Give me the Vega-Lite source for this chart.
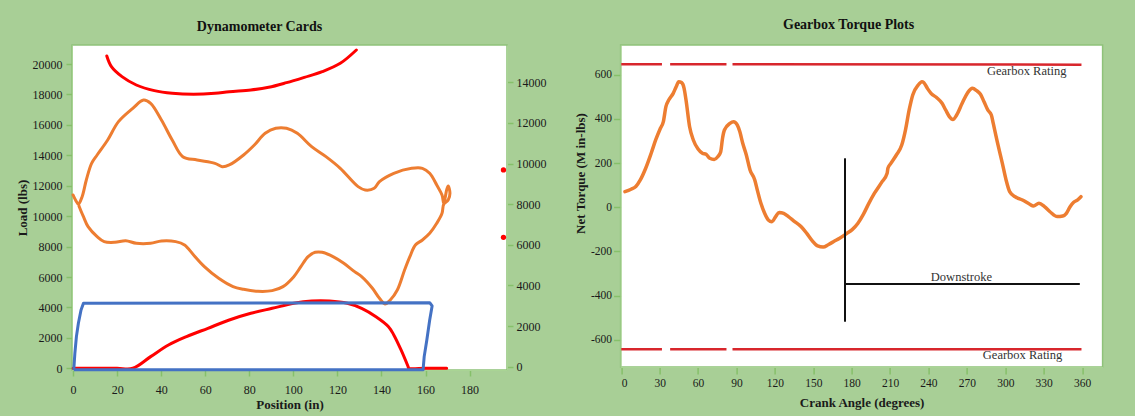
{
  "$schema": "https://vega.github.io/schema/vega-lite/v6.json",
  "background": "#a8cf96",
  "padding": {"left": 15, "top": 17, "right": 35, "bottom": 4},
  "spacing": 26.6,
  "config": {
    "font": "Liberation Serif",
    "view": {"fill": "white", "stroke": "#8fc27a", "strokeWidth": 1.5},
    "axis": {"labelFont": "Liberation Serif", "labelFontSize": 12, "labelColor": "#1a1a1a", "labelOverlap": false, "titleFont": "Liberation Serif", "titleFontSize": 13, "titleFontWeight": "bold", "titleColor": "#1a1a1a", "tickColor": "#86c06a", "tickWidth": 1.5, "domainColor": "#a9d494", "grid": false, "tickSize": 6},
    "title": {"font": "Liberation Serif", "fontSize": 14, "fontWeight": "bold", "color": "#111", "frame": "group"}
  },
  "datasets": {
    "dyno": [
      {"series": "redtop", "i": 1, "pos": 15.3, "load": 20525},
      {"series": "redtop", "i": 2, "pos": 17.4, "load": 19825},
      {"series": "redtop", "i": 3, "pos": 22.2, "load": 19168},
      {"series": "redtop", "i": 4, "pos": 28.7, "load": 18620},
      {"series": "redtop", "i": 5, "pos": 36.9, "load": 18248},
      {"series": "redtop", "i": 6, "pos": 45.0, "load": 18072},
      {"series": "redtop", "i": 7, "pos": 54.7, "load": 18006},
      {"series": "redtop", "i": 8, "pos": 64.4, "load": 18072},
      {"series": "redtop", "i": 9, "pos": 70.9, "load": 18182},
      {"series": "redtop", "i": 10, "pos": 80.7, "load": 18291},
      {"series": "redtop", "i": 11, "pos": 88.8, "load": 18467},
      {"series": "redtop", "i": 12, "pos": 96.9, "load": 18773},
      {"series": "redtop", "i": 13, "pos": 105.0, "load": 19124},
      {"series": "redtop", "i": 14, "pos": 113.1, "load": 19496},
      {"series": "redtop", "i": 15, "pos": 121.3, "load": 20044},
      {"series": "redtop", "i": 16, "pos": 128.6, "load": 20920},
      {"series": "orange", "i": 1, "pos": 0, "load": 11391},
      {"series": "orange", "i": 2, "pos": 1.1, "load": 11062},
      {"series": "orange", "i": 3, "pos": 2.4, "load": 10800},
      {"series": "orange", "i": 4, "pos": 4.1, "load": 11281},
      {"series": "orange", "i": 5, "pos": 6.0, "load": 12377},
      {"series": "orange", "i": 6, "pos": 8.4, "load": 13472},
      {"series": "orange", "i": 7, "pos": 10.9, "load": 14020},
      {"series": "orange", "i": 8, "pos": 15.7, "load": 15005},
      {"series": "orange", "i": 9, "pos": 20.6, "load": 16210},
      {"series": "orange", "i": 10, "pos": 27.1, "load": 17087},
      {"series": "orange", "i": 11, "pos": 32.0, "load": 17634},
      {"series": "orange", "i": 12, "pos": 35.2, "load": 17415},
      {"series": "orange", "i": 13, "pos": 40.1, "load": 16320},
      {"series": "orange", "i": 14, "pos": 45.0, "load": 15005},
      {"series": "orange", "i": 15, "pos": 49.8, "load": 13910},
      {"series": "orange", "i": 16, "pos": 56.3, "load": 13691},
      {"series": "orange", "i": 17, "pos": 64.4, "load": 13472},
      {"series": "orange", "i": 18, "pos": 67.7, "load": 13253},
      {"series": "orange", "i": 19, "pos": 70.9, "load": 13363},
      {"series": "orange", "i": 20, "pos": 77.4, "load": 14020},
      {"series": "orange", "i": 21, "pos": 82.3, "load": 14677},
      {"series": "orange", "i": 22, "pos": 87.2, "load": 15444},
      {"series": "orange", "i": 23, "pos": 92.0, "load": 15772},
      {"series": "orange", "i": 24, "pos": 96.9, "load": 15772},
      {"series": "orange", "i": 25, "pos": 101.8, "load": 15444},
      {"series": "orange", "i": 26, "pos": 108.3, "load": 14567},
      {"series": "orange", "i": 27, "pos": 114.8, "load": 13910},
      {"series": "orange", "i": 28, "pos": 121.3, "load": 13143},
      {"series": "orange", "i": 29, "pos": 129.4, "load": 11939},
      {"series": "orange", "i": 30, "pos": 132.6, "load": 11720},
      {"series": "orange", "i": 31, "pos": 136.7, "load": 11829},
      {"series": "orange", "i": 32, "pos": 139.1, "load": 12267},
      {"series": "orange", "i": 33, "pos": 145.6, "load": 12815},
      {"series": "orange", "i": 34, "pos": 153.7, "load": 13143},
      {"series": "orange", "i": 35, "pos": 158.6, "load": 13143},
      {"series": "orange", "i": 36, "pos": 161.9, "load": 12815},
      {"series": "orange", "i": 37, "pos": 165.1, "load": 12048},
      {"series": "orange", "i": 38, "pos": 167.5, "load": 11391},
      {"series": "orange", "i": 39, "pos": 168.3, "load": 10843},
      {"series": "orange", "i": 40, "pos": 169.6, "load": 11720},
      {"series": "orange", "i": 41, "pos": 170.3, "load": 11982},
      {"series": "orange", "i": 42, "pos": 171.1, "load": 11501},
      {"series": "orange", "i": 43, "pos": 170.3, "load": 11062},
      {"series": "orange", "i": 44, "pos": 168.3, "load": 10800},
      {"series": "orange", "i": 45, "pos": 167.5, "load": 10186},
      {"series": "orange", "i": 46, "pos": 165.1, "load": 9529},
      {"series": "orange", "i": 47, "pos": 161.9, "load": 8872},
      {"series": "orange", "i": 48, "pos": 158.6, "load": 8434},
      {"series": "orange", "i": 49, "pos": 155.4, "load": 8105},
      {"series": "orange", "i": 50, "pos": 152.9, "load": 7338},
      {"series": "orange", "i": 51, "pos": 150.5, "load": 6462},
      {"series": "orange", "i": 52, "pos": 147.2, "load": 5148},
      {"series": "orange", "i": 53, "pos": 144.0, "load": 4491},
      {"series": "orange", "i": 54, "pos": 141.6, "load": 4228},
      {"series": "orange", "i": 55, "pos": 139.1, "load": 4600},
      {"series": "orange", "i": 56, "pos": 135.9, "load": 5257},
      {"series": "orange", "i": 57, "pos": 131.0, "load": 6024},
      {"series": "orange", "i": 58, "pos": 127.8, "load": 6353},
      {"series": "orange", "i": 59, "pos": 122.9, "load": 6900},
      {"series": "orange", "i": 60, "pos": 118.0, "load": 7338},
      {"series": "orange", "i": 61, "pos": 113.1, "load": 7623},
      {"series": "orange", "i": 62, "pos": 109.9, "load": 7623},
      {"series": "orange", "i": 63, "pos": 106.7, "load": 7338},
      {"series": "orange", "i": 64, "pos": 103.4, "load": 6681},
      {"series": "orange", "i": 65, "pos": 100.2, "load": 6024},
      {"series": "orange", "i": 66, "pos": 95.3, "load": 5367},
      {"series": "orange", "i": 67, "pos": 90.4, "load": 5104},
      {"series": "orange", "i": 68, "pos": 83.9, "load": 5060},
      {"series": "orange", "i": 69, "pos": 77.4, "load": 5192},
      {"series": "orange", "i": 70, "pos": 72.6, "load": 5367},
      {"series": "orange", "i": 71, "pos": 66.1, "load": 5915},
      {"series": "orange", "i": 72, "pos": 59.6, "load": 6681},
      {"series": "orange", "i": 73, "pos": 54.7, "load": 7448},
      {"series": "orange", "i": 74, "pos": 50.6, "load": 8105},
      {"series": "orange", "i": 75, "pos": 46.6, "load": 8324},
      {"series": "orange", "i": 76, "pos": 40.1, "load": 8368},
      {"series": "orange", "i": 77, "pos": 35.2, "load": 8215},
      {"series": "orange", "i": 78, "pos": 28.7, "load": 8215},
      {"series": "orange", "i": 79, "pos": 23.9, "load": 8390},
      {"series": "orange", "i": 80, "pos": 19.0, "load": 8280},
      {"series": "orange", "i": 81, "pos": 14.1, "load": 8324},
      {"series": "orange", "i": 82, "pos": 10.9, "load": 8653},
      {"series": "orange", "i": 83, "pos": 6.8, "load": 9310},
      {"series": "orange", "i": 84, "pos": 4.7, "load": 9967},
      {"series": "orange", "i": 85, "pos": 2.8, "load": 10624},
      {"series": "orange", "i": 86, "pos": 2.4, "load": 10800},
      {"series": "redlow", "i": 1, "pos": 0, "load": 0},
      {"series": "redlow", "i": 2, "pos": 10, "load": 0},
      {"series": "redlow", "i": 3, "pos": 20, "load": 0},
      {"series": "redlow", "i": 4, "pos": 27.1, "load": 0},
      {"series": "redlow", "i": 5, "pos": 35.2, "load": 767},
      {"series": "redlow", "i": 6, "pos": 43.3, "load": 1533},
      {"series": "redlow", "i": 7, "pos": 51.5, "load": 2081},
      {"series": "redlow", "i": 8, "pos": 61.2, "load": 2629},
      {"series": "redlow", "i": 9, "pos": 70.9, "load": 3176},
      {"series": "redlow", "i": 10, "pos": 80.7, "load": 3614},
      {"series": "redlow", "i": 11, "pos": 90.4, "load": 3943},
      {"series": "redlow", "i": 12, "pos": 100.2, "load": 4272},
      {"series": "redlow", "i": 13, "pos": 108.3, "load": 4425},
      {"series": "redlow", "i": 14, "pos": 116.4, "load": 4425},
      {"series": "redlow", "i": 15, "pos": 124.5, "load": 4272},
      {"series": "redlow", "i": 16, "pos": 131.0, "load": 3943},
      {"series": "redlow", "i": 17, "pos": 137.5, "load": 3395},
      {"series": "redlow", "i": 18, "pos": 143.2, "load": 2738},
      {"series": "redlow", "i": 19, "pos": 145.6, "load": 2191},
      {"series": "redlow", "i": 20, "pos": 148.9, "load": 1205},
      {"series": "redlow", "i": 21, "pos": 152.1, "load": 110},
      {"series": "redlow", "i": 22, "pos": 152.4, "load": 0},
      {"series": "redlow", "i": 23, "pos": 160, "load": 0},
      {"series": "redlow", "i": 24, "pos": 169.6, "load": 0},
      {"series": "blue", "i": 1, "pos": 0.3, "load": -100},
      {"series": "blue", "i": 2, "pos": 0.8, "load": 986},
      {"series": "blue", "i": 3, "pos": 1.5, "load": 2081},
      {"series": "blue", "i": 4, "pos": 2.4, "load": 2957},
      {"series": "blue", "i": 5, "pos": 3.6, "load": 3833},
      {"series": "blue", "i": 6, "pos": 4.7, "load": 4272},
      {"series": "blue", "i": 7, "pos": 161.9, "load": 4315},
      {"series": "blue", "i": 8, "pos": 163.0, "load": 4096},
      {"series": "blue", "i": 9, "pos": 161.9, "load": 3176},
      {"series": "blue", "i": 10, "pos": 160.6, "load": 1862},
      {"series": "blue", "i": 11, "pos": 159.4, "load": 767},
      {"series": "blue", "i": 12, "pos": 158.9, "load": -100},
      {"series": "blue", "i": 13, "pos": 0.3, "load": -100}
    ],
    "dots": [
      {"pos": 195.4, "val": 9684},
      {"pos": 195.4, "val": 6370}
    ],
    "torque": [
      {"angle": 2.9, "torque": 71}, {"angle": 7.7, "torque": 82}, {"angle": 11.4, "torque": 94},
      {"angle": 14.9, "torque": 124}, {"angle": 19.1, "torque": 177}, {"angle": 23.4, "torque": 245},
      {"angle": 26.9, "torque": 305}, {"angle": 30.6, "torque": 358}, {"angle": 32.9, "torque": 388},
      {"angle": 34.9, "torque": 456}, {"angle": 37.1, "torque": 486}, {"angle": 40.6, "torque": 516},
      {"angle": 42.9, "torque": 546}, {"angle": 44.9, "torque": 569}, {"angle": 47.1, "torque": 565},
      {"angle": 49.1, "torque": 539}, {"angle": 50.6, "torque": 486}, {"angle": 53.4, "torque": 365},
      {"angle": 56.3, "torque": 305}, {"angle": 60.0, "torque": 264}, {"angle": 63.4, "torque": 245},
      {"angle": 66.3, "torque": 240}, {"angle": 69.1, "torque": 222}, {"angle": 72.6, "torque": 217},
      {"angle": 75.4, "torque": 229}, {"angle": 77.7, "torque": 252}, {"angle": 79.1, "torque": 312},
      {"angle": 80.6, "torque": 350}, {"angle": 84.9, "torque": 380}, {"angle": 87.7, "torque": 388},
      {"angle": 90.6, "torque": 373}, {"angle": 92.6, "torque": 343}, {"angle": 94.9, "torque": 290},
      {"angle": 97.7, "torque": 237}, {"angle": 100.6, "torque": 169}, {"angle": 104.3, "torque": 124},
      {"angle": 106.3, "torque": 78}, {"angle": 109.1, "torque": 18}, {"angle": 112.0, "torque": -27},
      {"angle": 114.9, "torque": -57}, {"angle": 117.7, "torque": -65}, {"angle": 120.6, "torque": -42},
      {"angle": 123.4, "torque": -23}, {"angle": 126.9, "torque": -27}, {"angle": 130.6, "torque": -42},
      {"angle": 134.9, "torque": -62}, {"angle": 140.6, "torque": -88}, {"angle": 144.9, "torque": -118},
      {"angle": 149.1, "torque": -151}, {"angle": 153.4, "torque": -175}, {"angle": 157.7, "torque": -180},
      {"angle": 162.0, "torque": -168}, {"angle": 166.3, "torque": -154}, {"angle": 170.6, "torque": -140},
      {"angle": 176.3, "torque": -118}, {"angle": 180.6, "torque": -100}, {"angle": 184.9, "torque": -72},
      {"angle": 189.1, "torque": -32}, {"angle": 193.4, "torque": 18}, {"angle": 197.7, "torque": 63},
      {"angle": 203.4, "torque": 113}, {"angle": 207.7, "torque": 154}, {"angle": 208.3, "torque": 177},
      {"angle": 210.6, "torque": 199}, {"angle": 214.9, "torque": 237}, {"angle": 219.1, "torque": 282},
      {"angle": 222.0, "torque": 350}, {"angle": 224.9, "torque": 441}, {"angle": 227.7, "torque": 509},
      {"angle": 232.0, "torque": 554}, {"angle": 234.9, "torque": 569}, {"angle": 236.3, "torque": 565},
      {"angle": 239.1, "torque": 539}, {"angle": 242.0, "torque": 516}, {"angle": 246.3, "torque": 497},
      {"angle": 250.6, "torque": 471}, {"angle": 253.4, "torque": 441}, {"angle": 256.3, "torque": 411},
      {"angle": 259.1, "torque": 398}, {"angle": 262.0, "torque": 418}, {"angle": 266.3, "torque": 471},
      {"angle": 270.6, "torque": 519}, {"angle": 274.3, "torque": 539}, {"angle": 277.7, "torque": 528},
      {"angle": 280.6, "torque": 512}, {"angle": 283.4, "torque": 478}, {"angle": 286.3, "torque": 441},
      {"angle": 289.1, "torque": 418}, {"angle": 290.6, "torque": 380}, {"angle": 293.4, "torque": 305},
      {"angle": 297.7, "torque": 199}, {"angle": 300.6, "torque": 124}, {"angle": 303.4, "torque": 71},
      {"angle": 307.7, "torque": 48}, {"angle": 313.4, "torque": 33}, {"angle": 319.1, "torque": 14},
      {"angle": 322.0, "torque": 6}, {"angle": 326.3, "torque": 18}, {"angle": 330.6, "torque": 3},
      {"angle": 334.9, "torque": -20}, {"angle": 340.6, "torque": -42}, {"angle": 344.9, "torque": -39},
      {"angle": 347.7, "torque": -27}, {"angle": 350.6, "torque": 3}, {"angle": 353.4, "torque": 23},
      {"angle": 356.3, "torque": 33}, {"angle": 359.1, "torque": 48}
    ],
    "rating": [
      {"seg": "u1", "angle": 0, "torque": 648}, {"seg": "u1", "angle": 31.8, "torque": 648},
      {"seg": "u2", "angle": 38.2, "torque": 648}, {"seg": "u2", "angle": 82.2, "torque": 648},
      {"seg": "u3", "angle": 86.9, "torque": 648}, {"seg": "u3", "angle": 359.5, "torque": 646},
      {"seg": "l1", "angle": 0, "torque": -643}, {"seg": "l1", "angle": 31.8, "torque": -643},
      {"seg": "l2", "angle": 38.2, "torque": -643}, {"seg": "l2", "angle": 82.2, "torque": -643},
      {"seg": "l3", "angle": 86.9, "torque": -643}, {"seg": "l3", "angle": 359.5, "torque": -643}
    ],
    "markers": [
      {"a1": 174.8, "t1": 222, "a2": 174.8, "t2": -518},
      {"a1": 174.8, "t1": -347, "a2": 358.2, "t2": -347}
    ],
    "notes": [
      {"angle": 316.7, "torque": 617, "text": "Gearbox Rating"},
      {"angle": 313.5, "torque": -669, "text": "Gearbox Rating"},
      {"angle": 265.7, "torque": -314, "text": "Downstroke"}
    ]
  },
  "hconcat": [
    {
      "title": {"text": "Dynamometer Cards", "offset": 11, "dx": -30},
      "width": 435,
      "height": 325,
      "layer": [
        {
          "layer": [
            {
              "data": {"name": "dyno"},
              "transform": [{"filter": "datum.series != 'blue'"}],
              "mark": {"type": "line", "strokeWidth": 3, "interpolate": "catmull-rom", "strokeCap": "round", "strokeJoin": "round"},
              "encoding": {
                "x": {"field": "pos", "type": "quantitative", "title": "Position (in)", "scale": {"domain": [-0.5, 197], "nice": false, "zero": false},
                      "axis": {"values": [0, 20, 40, 60, 80, 100, 120, 140, 160, 180], "labelPadding": 8, "titlePadding": 3, "labelOverlap": false}},
                "y": {"field": "load", "type": "quantitative", "title": "Load (lbs)", "scale": {"domain": [-112, 21249], "nice": false, "zero": false},
                      "axis": {"values": [0, 2000, 4000, 6000, 8000, 10000, 12000, 14000, 16000, 18000, 20000], "format": "d", "labelPadding": 4, "titlePadding": 3, "labelOverlap": false}},
                "detail": {"field": "series"},
                "order": {"field": "i"},
                "color": {"field": "series", "scale": {"domain": ["redtop", "orange", "redlow"], "range": ["#ff0000", "#ed7d31", "#ff0000"]}, "legend": null}
              }
            },
            {
              "data": {"name": "dyno"},
              "transform": [{"filter": "datum.series == 'blue'"}],
              "mark": {"type": "line", "strokeWidth": 3, "color": "#4472c4", "strokeJoin": "round"},
              "encoding": {
                "x": {"field": "pos", "type": "quantitative", "title": "Position (in)",
                      "axis": {"values": [0, 20, 40, 60, 80, 100, 120, 140, 160, 180], "labelPadding": 8, "titlePadding": 3, "labelOverlap": false}},
                "y": {"field": "load", "type": "quantitative", "title": "Load (lbs)",
                      "axis": {"values": [0, 2000, 4000, 6000, 8000, 10000, 12000, 14000, 16000, 18000, 20000], "format": "d", "labelPadding": 4, "titlePadding": 3, "labelOverlap": false}},
                "order": {"field": "i"}
              }
            }
          ]
        },
        {
          "data": {"name": "dots"},
          "mark": {"type": "point", "filled": true, "size": 28, "color": "#ff0000", "opacity": 1},
          "encoding": {
            "x": {"field": "pos", "type": "quantitative", "title": "Position (in)",
                  "axis": {"values": [0, 20, 40, 60, 80, 100, 120, 140, 160, 180], "labelPadding": 8, "titlePadding": 3, "labelOverlap": false}},
            "y": {"field": "val", "type": "quantitative", "title": null, "scale": {"domain": [-162, 15836], "nice": false, "zero": false},
                  "axis": {"orient": "right", "values": [0, 2000, 4000, 6000, 8000, 10000, 12000, 14000], "format": "d", "labelPadding": 3, "labelOverlap": false}}
          }
        }
      ],
      "resolve": {"scale": {"y": "independent"}}
    },
    {
      "title": {"text": "Gearbox Torque Plots", "offset": 13, "dx": -13},
      "width": 482,
      "height": 322,
      "layer": [
        {
          "mark": {"type": "rule", "color": "#c2e2b2", "strokeWidth": 2},
          "encoding": {"y": {"datum": 0, "type": "quantitative", "title": "Net Torque (M in-lbs)"}}
        },
        {
          "data": {"name": "rating"},
          "mark": {"type": "line", "color": "#d8262c", "strokeWidth": 2.5},
          "encoding": {
            "x": {"field": "angle", "type": "quantitative", "title": "Crank Angle (degrees)"},
            "y": {"field": "torque", "type": "quantitative", "title": "Net Torque (M in-lbs)"},
            "detail": {"field": "seg"}
          }
        },
        {
          "data": {"name": "torque"},
          "mark": {"type": "line", "color": "#ed7d31", "strokeWidth": 3.5, "interpolate": "monotone", "strokeCap": "round"},
          "encoding": {
            "x": {"field": "angle", "type": "quantitative", "title": "Crank Angle (degrees)", "scale": {"domain": [-0.5, 376], "nice": false, "zero": false},
                  "axis": {"values": [0, 30, 60, 90, 120, 150, 180, 210, 240, 270, 300, 330, 360], "labelFontSize": 11.5, "labelPadding": 3, "titlePadding": 8, "tickSize": 7}},
            "y": {"field": "torque", "type": "quantitative", "title": "Net Torque (M in-lbs)", "scale": {"domain": [-723, 735], "nice": false, "zero": false},
                  "axis": {"values": [-600, -400, -200, 0, 200, 400, 600], "labelExpr": "'' + datum.value", "labelFontSize": 11.5, "labelPadding": 2, "titlePadding": 3, "tickSize": 7, "titleY": 128}}
          }
        },
        {
          "data": {"name": "markers"},
          "mark": {"type": "rule", "color": "#111", "strokeWidth": 2},
          "encoding": {
            "x": {"field": "a1", "type": "quantitative", "title": "Crank Angle (degrees)"},
            "y": {"field": "t1", "type": "quantitative", "title": "Net Torque (M in-lbs)"},
            "x2": {"field": "a2"},
            "y2": {"field": "t2"}
          }
        },
        {
          "data": {"name": "notes"},
          "mark": {"type": "text", "font": "Liberation Serif", "fontSize": 12.5, "color": "#333", "baseline": "middle"},
          "encoding": {
            "x": {"field": "angle", "type": "quantitative", "title": "Crank Angle (degrees)"},
            "y": {"field": "torque", "type": "quantitative", "title": "Net Torque (M in-lbs)"},
            "text": {"field": "text"}
          }
        }
      ]
    }
  ]
}
